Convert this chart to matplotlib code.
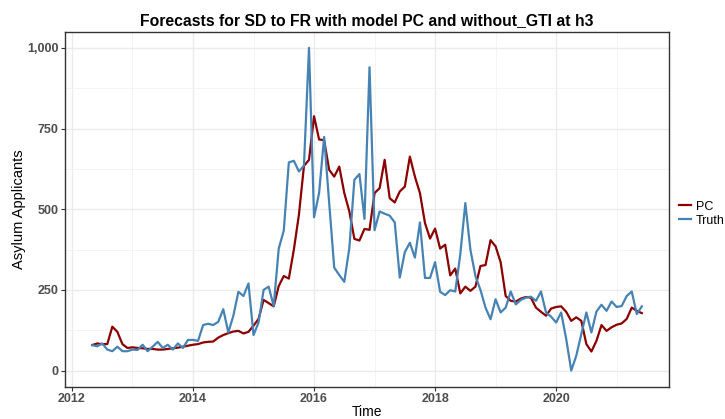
"""Forecast vs truth line chart for asylum applicants (SD to FR)."""
import matplotlib
matplotlib.use("Agg")
import matplotlib.pyplot as plt
import numpy as np
from matplotlib.ticker import FuncFormatter, MultipleLocator

# monthly series, May 2012 .. June 2021
start_year = 2012
start_month = 5

truth = [
    79, 75, 84, 65, 60, 74, 60, 60, 65, 64, 80, 60, 74, 89, 70, 80, 65, 84, 70, 95,
    95, 92, 141, 145, 141, 151, 190, 118, 170, 244, 231, 270, 110, 149, 250, 260, 200, 378, 434, 645,
    650, 617, 635, 1000, 475, 550, 724, 520, 319, 296, 275, 380, 591, 609, 470, 940, 435, 493, 486, 480,
    459, 288, 367, 396, 350, 459, 287, 287, 336, 244, 234, 249, 245, 360, 519, 375, 293, 250, 195, 159,
    221, 180, 195, 245, 205, 219, 226, 229, 216, 245, 180, 167, 149, 180, 98, 0, 46, 113, 180, 118,
    183, 204, 185, 214, 197, 200, 231, 245, 175, 199,
]

pc = [
    79, 84, 82, 82, 136, 120, 82, 70, 72, 70, 69, 67, 67, 65, 65, 67, 69, 71, 74, 77,
    80, 82, 87, 89, 90, 102, 110, 116, 121, 123, 115, 120, 139, 160, 219, 209, 199, 262, 293, 285,
    375, 483, 634, 653, 788, 716, 714, 622, 601, 632, 550, 493, 408, 403, 439, 436, 550, 565, 653, 534,
    521, 555, 570, 663, 601, 550, 457, 409, 440, 378, 390, 295, 316, 239, 260, 247, 260, 324, 327, 404,
    385, 336, 231, 216, 214, 223, 228, 226, 195, 182, 170, 192, 197, 199, 182, 154, 165, 154, 82, 59,
    92, 141, 123, 134, 142, 146, 160, 195, 185, 178,
]

x_ticks = [2012, 2014, 2016, 2018, 2020]
y_ticks = [0, 250, 500, 750, 1000]

TITLE = "Forecasts for SD to FR with model PC and without_GTI at h3"


def main():
    plt.rcParams["font.family"] = ["Liberation Sans", "DejaVu Sans"]

    months = np.arange(len(truth))
    time = start_year + (start_month - 1 + months) / 12.0

    fig = plt.figure(figsize=(7.25, 4.19), dpi=100)
    ax = fig.add_axes([0.0892, 0.0771, 0.8340, 0.8472])

    ax.plot(time, pc, color="#8B0000", lw=1.6, label="PC", zorder=3)
    ax.plot(time, truth, color="#4682B4", lw=1.6, label="Truth", zorder=3)

    span = time[-1] - time[0]
    ax.set_xlim(time[0] - 0.05 * span, time[-1] + 0.05 * span)
    ax.set_ylim(-50, 1050)

    ax.set_xticks(x_ticks)
    ax.set_yticks(y_ticks)
    ax.xaxis.set_minor_locator(MultipleLocator(1))
    ax.yaxis.set_minor_locator(MultipleLocator(125))
    ax.yaxis.set_major_formatter(FuncFormatter(lambda v, _: f"{int(v):,}"))

    ax.grid(which="major", color="#EBEBEB", lw=1.0, zorder=0)
    ax.grid(which="minor", color="#F2F2F2", lw=0.6, zorder=0)
    ax.set_axisbelow(True)

    for spine in ax.spines.values():
        spine.set_color("#333333")
        spine.set_linewidth(1.0)

    ax.tick_params(which="major", length=3, width=0.8, color="#333333",
                   labelsize=9, labelcolor="#4D4D4D", pad=1.5)
    ax.tick_params(which="minor", length=0)
    for lbl in ax.get_xticklabels() + ax.get_yticklabels():
        lbl.set_fontweight("bold")

    ax.set_xlabel("Time", fontsize=10, labelpad=0)
    ax.set_ylabel("Asylum Applicants", fontsize=10.5, labelpad=1)
    ax.set_title(TITLE, fontsize=11.3, fontweight="bold", pad=5)

    fig.legend(loc="center left", bbox_to_anchor=(0.937, 0.49), frameon=False,
               fontsize=9, handlelength=0.9, handletextpad=0.4, labelspacing=0.15,
               borderaxespad=0, borderpad=0)

    fig.savefig("out.png", dpi=100)
    plt.close(fig)


if __name__ == "__main__":
    main()
